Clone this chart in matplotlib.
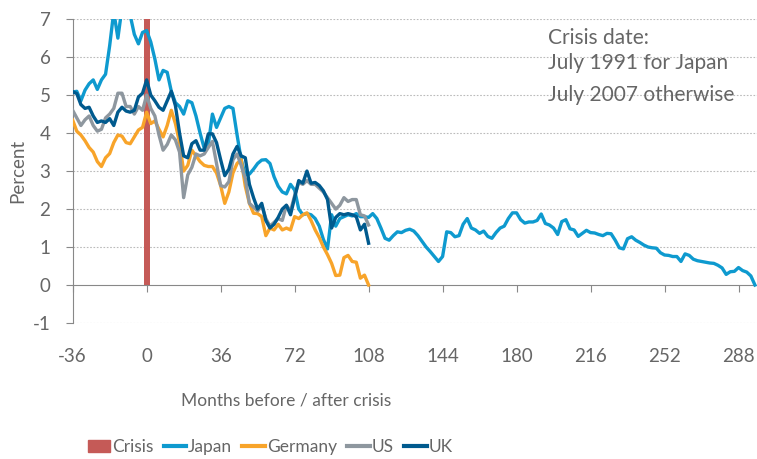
import numpy as np
import matplotlib
matplotlib.use("Agg")
import matplotlib.pyplot as plt
from matplotlib.patches import Patch
from matplotlib.lines import Line2D


# =========================
# DATA (percent, every 2 months)
# =========================

crisis_month = [0]
crisis_height = [7]

japan = [
    5.08, 5.10, 4.85, 5.13, 5.30, 5.40, 5.15, 5.40, 5.55, 6.30,
    7.20, 6.50, 7.30, 7.40, 7.10, 6.60, 6.35, 6.65, 6.70, 6.40,
    5.95, 5.40, 5.65, 5.60, 5.10, 4.80, 4.70, 4.50, 4.85, 4.80,
    4.45, 4.00, 3.60, 3.70, 4.50, 4.15, 4.40, 4.65, 4.70, 4.65,
    3.95, 3.30, 2.90, 2.92, 3.05, 3.20, 3.29, 3.30, 3.20, 2.85,
    2.60, 2.45, 2.40, 2.65, 2.50, 2.00, 1.85, 1.88, 1.85, 1.75,
    1.55, 1.20, 0.95, 1.85, 1.55, 1.75, 1.80, 1.85, 1.82, 1.88,
    1.80, 1.80, 1.78, 1.88, 1.75, 1.50, 1.23, 1.18, 1.30, 1.40,
    1.38, 1.44, 1.47, 1.42, 1.30, 1.15, 1.00, 0.88, 0.75, 0.62,
    0.75, 1.40, 1.38, 1.27, 1.30, 1.60, 1.75, 1.50, 1.45, 1.36,
    1.42, 1.28, 1.23, 1.38, 1.50, 1.55, 1.75, 1.90, 1.90, 1.72,
    1.63, 1.66, 1.66, 1.70, 1.87, 1.62, 1.58, 1.50, 1.33, 1.67,
    1.72, 1.48, 1.45, 1.28, 1.36, 1.44, 1.38, 1.37, 1.33, 1.30,
    1.36, 1.35, 1.18, 0.98, 0.95, 1.22, 1.27, 1.18, 1.12, 1.05,
    1.00, 0.98, 0.97, 0.85, 0.79, 0.78, 0.75, 0.75, 0.62, 0.82,
    0.78, 0.68, 0.64, 0.62, 0.60, 0.58, 0.57, 0.52, 0.45, 0.28,
    0.35, 0.36, 0.46, 0.38, 0.34, 0.24, 0.00,
]

germany = [
    4.34, 4.05, 3.95, 3.80, 3.62, 3.50, 3.25, 3.12, 3.35, 3.46,
    3.75, 3.95, 3.92, 3.75, 3.72, 3.90, 4.08, 4.15, 4.55, 4.25,
    4.32, 4.10, 3.90, 4.20, 4.60, 4.25, 3.75, 3.00, 3.15, 3.55,
    3.40, 3.25, 3.15, 3.12, 3.12, 2.95, 2.62, 2.15, 2.45, 2.95,
    3.20, 3.30, 2.60, 2.15, 1.89, 1.88, 1.80, 1.30, 1.50, 1.45,
    1.60, 1.45, 1.50, 1.45, 1.80, 1.75, 1.85, 1.90, 1.70, 1.45,
    1.25, 1.00, 0.80, 0.57, 0.25, 0.26, 0.72, 0.78, 0.62, 0.60,
    0.18, 0.26, 0.00,
]

us = [
    4.60, 4.40, 4.20, 4.35, 4.45, 4.20, 4.05, 4.10, 4.40, 4.50,
    4.65, 5.05, 5.05, 4.70, 4.70, 4.50, 4.70, 4.60, 5.00, 4.65,
    4.45, 3.95, 3.55, 3.70, 3.95, 3.82, 3.50, 2.30, 2.90, 3.10,
    3.45, 3.40, 3.45, 3.62, 3.78, 3.20, 2.62, 2.58, 2.72, 3.30,
    3.45, 3.15, 2.80, 2.15, 2.05, 1.95, 2.10, 1.75, 1.55, 1.65,
    1.75, 1.70, 2.10, 1.95, 2.35, 2.70, 2.65, 2.75, 2.65, 2.65,
    2.55, 2.45, 2.30, 2.15, 2.00, 2.10, 2.30, 2.20, 2.25, 2.25,
    1.85, 1.82, 1.58,
]

uk = [
    5.09, 5.04, 4.75, 4.65, 4.68, 4.45, 4.28, 4.32, 4.28, 4.38,
    4.20, 4.55, 4.68, 4.58, 4.55, 4.60, 4.95, 5.05, 5.40, 5.00,
    4.85, 4.68, 4.60, 4.85, 5.10, 4.72, 4.00, 3.40, 3.35, 3.72,
    3.80, 3.55, 3.55, 3.98, 3.98, 3.75, 3.30, 2.88, 3.05, 3.45,
    3.65, 3.40, 3.35, 2.65, 2.30, 2.00, 2.15, 1.70, 1.50, 1.60,
    1.78, 2.00, 2.10, 1.85, 2.30, 2.75, 2.68, 3.00, 2.68, 2.70,
    2.62, 2.48, 2.25, 1.50, 1.78, 1.88, 1.85, 1.88, 1.85, 1.80,
    1.45, 1.60, 1.10,
]

japan_months = np.arange(-36, -36 + 2 * len(japan), 2)
other_months = np.arange(-36, -36 + 2 * len(uk), 2)

x_ticks = [-36, 0, 36, 72, 108, 144, 180, 216, 252, 288]
y_ticks = [-1, 0, 1, 2, 3, 4, 5, 6, 7]

colors = {
    "Crisis": "#C55A57",
    "Japan": "#0E9ACF",
    "Germany": "#F8A42A",
    "US": "#8E979F",
    "UK": "#005A8E",
}


# =========================
# PLOT
# =========================

plt.rcParams["font.family"] = ["Lato", "DejaVu Sans"]
text_color = "#666666"
fs = 13.5

fig = plt.figure(figsize=(7.57, 4.59), dpi=100)
ax = fig.add_axes([0.096, 0.2963, 0.904, 0.662])

ax.bar(crisis_month, crisis_height, width=2.8, color=colors["Crisis"], zorder=2)

lw = 2.4
ax.plot(japan_months, japan, color=colors["Japan"], lw=lw, zorder=3)
ax.plot(other_months, germany, color=colors["Germany"], lw=lw, zorder=3)
ax.plot(other_months, us, color=colors["US"], lw=lw, zorder=3)
ax.plot(other_months, uk, color=colors["UK"], lw=lw, zorder=3)

ax.set_xlim(-36, 297)
ax.set_ylim(-1, 7)

# grid lines (dotted), x axis sits at zero
for y in y_ticks:
    if y != 0:
        ax.axhline(y, color="#BBBBBB", lw=0.8, ls=(0, (1.5, 1.5)), zorder=1)

ax.spines["top"].set_visible(False)
ax.spines["right"].set_visible(False)
ax.spines["bottom"].set_position(("data", 0))
ax.spines["bottom"].set_color("#888888")
ax.spines["left"].set_color("#888888")
ax.spines["bottom"].set_zorder(2.5)

ax.set_xticks(x_ticks)
ax.set_xticklabels([str(t) for t in x_ticks])
ax.set_yticks(y_ticks)
ax.set_yticklabels([str(t) for t in y_ticks])

ax.tick_params(axis="x", direction="out", length=5, color="#888888",
               labelcolor=text_color, labelsize=fs, pad=40)
ax.tick_params(axis="y", direction="out", length=5, color="#888888",
               labelcolor=text_color, labelsize=fs, pad=11)

fig.text(18 / 757, 1 - 171 / 459, "Percent", rotation=90,
         color=text_color, fontsize=fs, ha="center", va="center")

fig.text(286 / 757, 1 - 400 / 459, "Months before / after crisis",
         color=text_color, fontsize=12.5, ha="center", va="center")

# annotation box
ann_fs = 15
ax.text(548 / 757, 1 - 38 / 459, "Crisis date:", transform=fig.transFigure,
        color=text_color, fontsize=ann_fs, ha="left", va="center")
ax.text(548 / 757, 1 - 63 / 459, "July 1991 for Japan", transform=fig.transFigure,
        color=text_color, fontsize=ann_fs, ha="left", va="center")
ax.text(548 / 757, 1 - 95 / 459, "July 2007 otherwise", transform=fig.transFigure,
        color=text_color, fontsize=ann_fs, ha="left", va="center")

# legend
handles = [Patch(color=colors["Crisis"])]
labels = ["Crisis"]
for name in ["Japan", "Germany", "US", "UK"]:
    handles.append(Line2D([0], [0], color=colors[name], lw=3))
    labels.append(name)

fig.legend(handles, labels, loc="center", bbox_to_anchor=(270 / 757, 1 - 447 / 459),
           ncol=5, frameon=False, fontsize=12.5, handlelength=1.3,
           handletextpad=0.1, columnspacing=0.6, labelcolor=text_color)

plt.savefig("out.png", dpi=100)
